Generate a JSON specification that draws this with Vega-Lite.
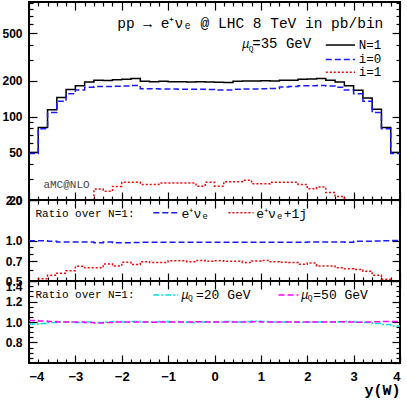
{
"$schema": "https://vega.github.io/schema/vega-lite/v6.json",
"padding": {"left": 0, "top": 0, "right": 4, "bottom": 0},
"spacing": 0,
"bounds": "flush",
"config": {
  "view": {"stroke": "black", "strokeWidth": 2},
  "axis": {"domain": false, "grid": false, "tickColor": "black", "tickWidth": 1.2, "labelFont": "Liberation Sans", "labelFontWeight": "bold", "labelColor": "black", "labelFontSize": 12, "minExtent": 0},
  "text": {"font": "Liberation Mono", "color": "black"}
},
"datasets": {
  "top": [
{"s":"N1","x":-4,"v":50},{"s":"N1","x":-3.8,"v":81},{"s":"N1","x":-3.6,"v":114},{"s":"N1","x":-3.4,"v":144},{"s":"N1","x":-3.2,"v":168},{"s":"N1","x":-3,"v":181},{"s":"N1","x":-2.8,"v":195},{"s":"N1","x":-2.6,"v":201},{"s":"N1","x":-2.4,"v":200},{"s":"N1","x":-2.2,"v":203},{"s":"N1","x":-2,"v":205},{"s":"N1","x":-1.8,"v":208},{"s":"N1","x":-1.6,"v":197},{"s":"N1","x":-1.4,"v":196},{"s":"N1","x":-1.2,"v":197},{"s":"N1","x":-1,"v":196},{"s":"N1","x":-0.8,"v":196},{"s":"N1","x":-0.6,"v":195},{"s":"N1","x":-0.4,"v":196},{"s":"N1","x":-0.2,"v":195},{"s":"N1","x":0,"v":194},{"s":"N1","x":0.2,"v":193},{"s":"N1","x":0.4,"v":197},{"s":"N1","x":0.6,"v":198},{"s":"N1","x":0.8,"v":198},{"s":"N1","x":1,"v":199},{"s":"N1","x":1.2,"v":198},{"s":"N1","x":1.4,"v":201},{"s":"N1","x":1.6,"v":201},{"s":"N1","x":1.8,"v":205},{"s":"N1","x":2,"v":206},{"s":"N1","x":2.2,"v":208},{"s":"N1","x":2.4,"v":201},{"s":"N1","x":2.6,"v":195},{"s":"N1","x":2.8,"v":181},{"s":"N1","x":3,"v":166},{"s":"N1","x":3.2,"v":143},{"s":"N1","x":3.4,"v":115},{"s":"N1","x":3.6,"v":81},{"s":"N1","x":3.8,"v":50},{"s":"N1","x":4,"v":50},
{"s":"i0","x":-4,"v":49},{"s":"i0","x":-3.8,"v":79},{"s":"i0","x":-3.6,"v":108},{"s":"i0","x":-3.4,"v":134},{"s":"i0","x":-3.2,"v":155},{"s":"i0","x":-3,"v":167},{"s":"i0","x":-2.8,"v":176},{"s":"i0","x":-2.6,"v":178},{"s":"i0","x":-2.4,"v":178},{"s":"i0","x":-2.2,"v":179},{"s":"i0","x":-2,"v":180},{"s":"i0","x":-1.8,"v":182},{"s":"i0","x":-1.6,"v":171},{"s":"i0","x":-1.4,"v":171},{"s":"i0","x":-1.2,"v":170},{"s":"i0","x":-1,"v":170},{"s":"i0","x":-0.8,"v":169},{"s":"i0","x":-0.6,"v":169},{"s":"i0","x":-0.4,"v":169},{"s":"i0","x":-0.2,"v":168},{"s":"i0","x":0,"v":167},{"s":"i0","x":0.2,"v":167},{"s":"i0","x":0.4,"v":169},{"s":"i0","x":0.6,"v":170},{"s":"i0","x":0.8,"v":170},{"s":"i0","x":1,"v":171},{"s":"i0","x":1.2,"v":172},{"s":"i0","x":1.4,"v":177},{"s":"i0","x":1.6,"v":178},{"s":"i0","x":1.8,"v":181},{"s":"i0","x":2,"v":181},{"s":"i0","x":2.2,"v":182},{"s":"i0","x":2.4,"v":180},{"s":"i0","x":2.6,"v":176},{"s":"i0","x":2.8,"v":167},{"s":"i0","x":3,"v":155},{"s":"i0","x":3.2,"v":134},{"s":"i0","x":3.4,"v":108},{"s":"i0","x":3.6,"v":79},{"s":"i0","x":3.8,"v":49},{"s":"i0","x":4,"v":49},
{"s":"i1","x":-2.8,"v":15},{"s":"i1","x":-2.6,"v":24.7},{"s":"i1","x":-2.4,"v":23.7},{"s":"i1","x":-2.2,"v":26},{"s":"i1","x":-2,"v":28.1},{"s":"i1","x":-1.8,"v":28.1},{"s":"i1","x":-1.6,"v":27},{"s":"i1","x":-1.4,"v":27},{"s":"i1","x":-1.2,"v":27.7},{"s":"i1","x":-1,"v":27.7},{"s":"i1","x":-0.8,"v":27.7},{"s":"i1","x":-0.6,"v":27.7},{"s":"i1","x":-0.4,"v":26.1},{"s":"i1","x":-0.2,"v":28.1},{"s":"i1","x":0,"v":26.1},{"s":"i1","x":0.2,"v":28.5},{"s":"i1","x":0.4,"v":28.5},{"s":"i1","x":0.6,"v":29.2},{"s":"i1","x":0.8,"v":27.3},{"s":"i1","x":1,"v":27.3},{"s":"i1","x":1.2,"v":28.1},{"s":"i1","x":1.4,"v":28.1},{"s":"i1","x":1.6,"v":28.1},{"s":"i1","x":1.8,"v":27},{"s":"i1","x":2,"v":24.8},{"s":"i1","x":2.2,"v":25.7},{"s":"i1","x":2.4,"v":23.1},{"s":"i1","x":2.6,"v":21.4},{"s":"i1","x":2.8,"v":15},{"s":"i1","x":3,"v":15}
  ],
  "mid": [
{"s":"ev","x":-4,"v":0.997},{"s":"ev","x":-3.8,"v":0.997},{"s":"ev","x":-3.6,"v":0.986},{"s":"ev","x":-3.4,"v":0.974},{"s":"ev","x":-3.2,"v":0.974},{"s":"ev","x":-3,"v":0.974},{"s":"ev","x":-2.8,"v":0.974},{"s":"ev","x":-2.6,"v":0.964},{"s":"ev","x":-2.4,"v":0.974},{"s":"ev","x":-2.2,"v":0.964},{"s":"ev","x":-2,"v":0.964},{"s":"ev","x":-1.8,"v":0.967},{"s":"ev","x":-1.6,"v":0.969},{"s":"ev","x":-1.4,"v":0.969},{"s":"ev","x":-1.2,"v":0.969},{"s":"ev","x":-1,"v":0.969},{"s":"ev","x":-0.8,"v":0.969},{"s":"ev","x":-0.6,"v":0.969},{"s":"ev","x":-0.4,"v":0.969},{"s":"ev","x":-0.2,"v":0.969},{"s":"ev","x":0,"v":0.969},{"s":"ev","x":0.2,"v":0.969},{"s":"ev","x":0.4,"v":0.969},{"s":"ev","x":0.6,"v":0.969},{"s":"ev","x":0.8,"v":0.969},{"s":"ev","x":1,"v":0.969},{"s":"ev","x":1.2,"v":0.969},{"s":"ev","x":1.4,"v":0.969},{"s":"ev","x":1.6,"v":0.969},{"s":"ev","x":1.8,"v":0.969},{"s":"ev","x":2,"v":0.974},{"s":"ev","x":2.2,"v":0.974},{"s":"ev","x":2.4,"v":0.974},{"s":"ev","x":2.6,"v":0.974},{"s":"ev","x":2.8,"v":0.969},{"s":"ev","x":3,"v":0.986},{"s":"ev","x":3.2,"v":0.986},{"s":"ev","x":3.4,"v":0.99},{"s":"ev","x":3.6,"v":0.997},{"s":"ev","x":3.8,"v":1.0},{"s":"ev","x":4,"v":1.0},
{"s":"ej","x":-4,"v":0.49},{"s":"ej","x":-3.8,"v":0.52},{"s":"ej","x":-3.6,"v":0.551},{"s":"ej","x":-3.4,"v":0.572},{"s":"ej","x":-3.2,"v":0.596},{"s":"ej","x":-3,"v":0.643},{"s":"ej","x":-2.8,"v":0.627},{"s":"ej","x":-2.6,"v":0.627},{"s":"ej","x":-2.4,"v":0.669},{"s":"ej","x":-2.2,"v":0.647},{"s":"ej","x":-2,"v":0.688},{"s":"ej","x":-1.8,"v":0.662},{"s":"ej","x":-1.6,"v":0.696},{"s":"ej","x":-1.4,"v":0.685},{"s":"ej","x":-1.2,"v":0.685},{"s":"ej","x":-1,"v":0.707},{"s":"ej","x":-0.8,"v":0.707},{"s":"ej","x":-0.6,"v":0.696},{"s":"ej","x":-0.4,"v":0.711},{"s":"ej","x":-0.2,"v":0.7},{"s":"ej","x":0,"v":0.707},{"s":"ej","x":0.2,"v":0.7},{"s":"ej","x":0.4,"v":0.7},{"s":"ej","x":0.6,"v":0.685},{"s":"ej","x":0.8,"v":0.704},{"s":"ej","x":1,"v":0.711},{"s":"ej","x":1.2,"v":0.696},{"s":"ej","x":1.4,"v":0.688},{"s":"ej","x":1.6,"v":0.685},{"s":"ej","x":1.8,"v":0.666},{"s":"ej","x":2,"v":0.681},{"s":"ej","x":2.2,"v":0.647},{"s":"ej","x":2.4,"v":0.647},{"s":"ej","x":2.6,"v":0.627},{"s":"ej","x":2.8,"v":0.617},{"s":"ej","x":3,"v":0.61},{"s":"ej","x":3.2,"v":0.59},{"s":"ej","x":3.4,"v":0.551},{"s":"ej","x":3.6,"v":0.515},{"s":"ej","x":3.8,"v":0.49},{"s":"ej","x":4,"v":0.49}
  ],
  "bot": [
{"s":"m20","x":-4,"v":0.98},{"s":"m20","x":-3.8,"v":0.985},{"s":"m20","x":-3.6,"v":0.995},{"s":"m20","x":-3.4,"v":1.0},{"s":"m20","x":-3.2,"v":1.0},{"s":"m20","x":-3,"v":0.995},{"s":"m20","x":-2.8,"v":1.0},{"s":"m20","x":-2.6,"v":0.995},{"s":"m20","x":-2.4,"v":1.0},{"s":"m20","x":-2.2,"v":1.005},{"s":"m20","x":-2,"v":1.0},{"s":"m20","x":-1.8,"v":1.005},{"s":"m20","x":-1.6,"v":1.0},{"s":"m20","x":-1.4,"v":1.0},{"s":"m20","x":-1.2,"v":1.005},{"s":"m20","x":-1,"v":1.0},{"s":"m20","x":-0.8,"v":1.0},{"s":"m20","x":-0.6,"v":0.995},{"s":"m20","x":-0.4,"v":1.0},{"s":"m20","x":-0.2,"v":1.0},{"s":"m20","x":0,"v":1.0},{"s":"m20","x":0.2,"v":1.005},{"s":"m20","x":0.4,"v":1.0},{"s":"m20","x":0.6,"v":1.005},{"s":"m20","x":0.8,"v":1.008},{"s":"m20","x":1,"v":1.005},{"s":"m20","x":1.2,"v":1.0},{"s":"m20","x":1.4,"v":1.0},{"s":"m20","x":1.6,"v":1.0},{"s":"m20","x":1.8,"v":0.997},{"s":"m20","x":2,"v":1.0},{"s":"m20","x":2.2,"v":1.0},{"s":"m20","x":2.4,"v":1.0},{"s":"m20","x":2.6,"v":1.0},{"s":"m20","x":2.8,"v":1.005},{"s":"m20","x":3,"v":1.0},{"s":"m20","x":3.2,"v":0.995},{"s":"m20","x":3.4,"v":0.985},{"s":"m20","x":3.6,"v":0.975},{"s":"m20","x":3.8,"v":0.962},{"s":"m20","x":4,"v":0.962},
{"s":"m50","x":-4,"v":1.015},{"s":"m50","x":-3.8,"v":1.01},{"s":"m50","x":-3.6,"v":1.005},{"s":"m50","x":-3.4,"v":1.0},{"s":"m50","x":-3.2,"v":1.0},{"s":"m50","x":-3,"v":1.0},{"s":"m50","x":-2.8,"v":0.995},{"s":"m50","x":-2.6,"v":0.99},{"s":"m50","x":-2.4,"v":0.995},{"s":"m50","x":-2.2,"v":1.0},{"s":"m50","x":-2,"v":1.0},{"s":"m50","x":-1.8,"v":1.0},{"s":"m50","x":-1.6,"v":1.0},{"s":"m50","x":-1.4,"v":0.998},{"s":"m50","x":-1.2,"v":1.0},{"s":"m50","x":-1,"v":1.0},{"s":"m50","x":-0.8,"v":1.0},{"s":"m50","x":-0.6,"v":1.0},{"s":"m50","x":-0.4,"v":1.002},{"s":"m50","x":-0.2,"v":1.0},{"s":"m50","x":0,"v":1.0},{"s":"m50","x":0.2,"v":1.0},{"s":"m50","x":0.4,"v":1.0},{"s":"m50","x":0.6,"v":1.0},{"s":"m50","x":0.8,"v":1.002},{"s":"m50","x":1,"v":1.0},{"s":"m50","x":1.2,"v":1.0},{"s":"m50","x":1.4,"v":1.0},{"s":"m50","x":1.6,"v":1.0},{"s":"m50","x":1.8,"v":1.0},{"s":"m50","x":2,"v":1.0},{"s":"m50","x":2.2,"v":1.0},{"s":"m50","x":2.4,"v":1.0},{"s":"m50","x":2.6,"v":1.002},{"s":"m50","x":2.8,"v":1.0},{"s":"m50","x":3,"v":0.998},{"s":"m50","x":3.2,"v":1.0},{"s":"m50","x":3.4,"v":1.002},{"s":"m50","x":3.6,"v":1.005},{"s":"m50","x":3.8,"v":1.005},{"s":"m50","x":4,"v":1.005}
  ]
},
"vconcat": [
{
  "width": 371, "height": 198,
  "resolve": {"axis": {"x": "independent", "y": "independent"}},
  "layer": [
    {"data": {"name": "top"}, "transform": [{"filter": "datum.s === 'N1'"}],
     "mark": {"type": "line", "interpolate": "step-after", "color": "black", "strokeWidth": 1.5, "clip": true},
     "encoding": {
       "x": {"field": "x", "type": "quantitative", "scale": {"domain": [-4, 4], "nice": false, "zero": false}, "axis": {"orient": "bottom", "values": [-4,-3,-2,-1,0,1,2,3,4], "tickSize": -8, "labels": false, "title": null}},
       "y": {"field": "v", "type": "quantitative", "scale": {"type": "log", "domain": [20, 910], "nice": false}, "axis": {"orient": "left", "values": [20,50,100,200,500], "tickSize": -8, "labelPadding": 15, "format": "d", "title": null}}
     }},
    {"data": {"name": "top"}, "transform": [{"filter": "datum.s === 'i0'"}],
     "mark": {"type": "line", "interpolate": "step-after", "color": "#1a1aff", "strokeWidth": 1.5, "strokeDash": [6, 3], "clip": true},
     "encoding": {
       "x": {"field": "x", "type": "quantitative", "axis": {"orient": "bottom", "values": [-3.8,-3.6,-3.4,-3.2,-2.8,-2.6,-2.4,-2.2,-1.8,-1.6,-1.4,-1.2,-0.8,-0.6,-0.4,-0.2,0.2,0.4,0.6,0.8,1.2,1.4,1.6,1.8,2.2,2.4,2.6,2.8,3.2,3.4,3.6,3.8], "tickSize": -4, "labels": false, "title": null}},
       "y": {"field": "v", "type": "quantitative", "axis": {"orient": "left", "values": [30,40,60,70,80,90,300,400,600,700,800,900], "tickSize": -4, "labels": false, "title": null}}
     }},
    {"data": {"name": "top"}, "transform": [{"filter": "datum.s === 'i1'"}],
     "mark": {"type": "line", "interpolate": "step-after", "color": "#ff0000", "strokeWidth": 1.5, "strokeDash": [2, 2], "clip": true},
     "encoding": {
       "x": {"field": "x", "type": "quantitative", "axis": {"orient": "top", "values": [-4,-3,-2,-1,0,1,2,3,4], "tickSize": -8, "labels": false, "title": null}},
       "y": {"field": "v", "type": "quantitative", "axis": {"orient": "right", "values": [50,100,200,500], "tickSize": -8, "labels": false, "title": null}}
     }},
    {"data": {"values": [{}]},
     "mark": {"type": "rule", "color": "black", "strokeWidth": 1.5},
     "encoding": {
       "x": {"datum": 2.40, "type": "quantitative", "axis": {"orient": "top", "values": [-3.8,-3.6,-3.4,-3.2,-2.8,-2.6,-2.4,-2.2,-1.8,-1.6,-1.4,-1.2,-0.8,-0.6,-0.4,-0.2,0.2,0.4,0.6,0.8,1.2,1.4,1.6,1.8,2.2,2.4,2.6,2.8,3.2,3.4,3.6,3.8], "tickSize": -4, "labels": false, "title": null}},
       "x2": {"datum": 3.03},
       "y": {"datum": 397, "type": "quantitative", "axis": {"orient": "right", "values": [30,40,60,70,80,90,300,400,600,700,800,900], "tickSize": -4, "labels": false, "title": null}}
     }},
    {"data": {"values": [{}]},
     "layer": [
       {"mark": {"type": "rule", "color": "#1a1aff", "strokeWidth": 1.5, "strokeDash": [6, 3]},
        "encoding": {"x": {"datum": 2.40, "axis": null}, "x2": {"datum": 3.03}, "y": {"datum": 301, "axis": null}}},
       {"mark": {"type": "rule", "color": "#ff0000", "strokeWidth": 1.5, "strokeDash": [2, 2]},
        "encoding": {"x": {"datum": 2.40, "axis": null}, "x2": {"datum": 3.03}, "y": {"datum": 235, "axis": null}}},
       {"mark": {"type": "text", "text": "pp → e⁺νₑ @ LHC 8 TeV in pb/bin", "fontSize": 14.5, "align": "right", "baseline": "alphabetic"},
        "encoding": {"x": {"datum": 3.64, "axis": null}, "y": {"datum": 551, "axis": null}}},
       {"mark": {"type": "text", "text": "μ", "fontSize": 12, "fontStyle": "italic", "align": "left", "baseline": "alphabetic"},
        "encoding": {"x": {"datum": 0.60, "axis": null}, "y": {"datum": 375, "axis": null}}},
       {"mark": {"type": "text", "text": "Q", "fontSize": 8, "align": "left", "baseline": "alphabetic"},
        "encoding": {"x": {"datum": 0.74, "axis": null}, "y": {"datum": 354, "axis": null}}},
       {"mark": {"type": "text", "text": "=35 GeV", "fontSize": 14, "align": "left", "baseline": "alphabetic"},
        "encoding": {"x": {"datum": 0.815, "axis": null}, "y": {"datum": 375, "axis": null}}},
       {"mark": {"type": "text", "text": "N=1", "fontSize": 12.5, "align": "left", "baseline": "middle"},
        "encoding": {"x": {"datum": 3.11, "axis": null}, "y": {"datum": 397, "axis": null}}},
       {"mark": {"type": "text", "text": "i=0", "fontSize": 12.5, "align": "left", "baseline": "middle"},
        "encoding": {"x": {"datum": 3.11, "axis": null}, "y": {"datum": 301, "axis": null}}},
       {"mark": {"type": "text", "text": "i=1", "fontSize": 12.5, "align": "left", "baseline": "middle"},
        "encoding": {"x": {"datum": 3.11, "axis": null}, "y": {"datum": 235, "axis": null}}},
       {"mark": {"type": "text", "text": "aMC@NLO", "fontSize": 11, "color": "#444444", "align": "left", "baseline": "middle"},
        "encoding": {"x": {"datum": -3.69, "axis": null}, "y": {"datum": 26.7, "axis": null}}}
     ]}
  ]
},
{
  "width": 371, "height": 81,
  "resolve": {"axis": {"x": "independent", "y": "independent"}},
  "layer": [
    {"data": {"name": "mid"}, "transform": [{"filter": "datum.s === 'ev'"}],
     "mark": {"type": "line", "interpolate": "step-after", "color": "#1a1aff", "strokeWidth": 1.5, "strokeDash": [6, 3], "clip": true},
     "encoding": {
       "x": {"field": "x", "type": "quantitative", "scale": {"domain": [-4, 4], "nice": false, "zero": false}, "axis": {"orient": "bottom", "values": [-4,-3,-2,-1,0,1,2,3,4], "tickSize": -8, "labels": false, "title": null}},
       "y": {"field": "v", "type": "quantitative", "scale": {"type": "log", "domain": [0.5, 2.0], "nice": false}, "axis": {"orient": "left", "values": [0.5,0.7,1.0,2.0], "tickSize": -8, "labelPadding": 15, "format": ".1f", "title": null}}
     }},
    {"data": {"name": "mid"}, "transform": [{"filter": "datum.s === 'ej'"}],
     "mark": {"type": "line", "interpolate": "step-after", "color": "#ff0000", "strokeWidth": 1.5, "strokeDash": [2, 2], "clip": true},
     "encoding": {
       "x": {"field": "x", "type": "quantitative", "axis": {"orient": "bottom", "values": [-3.8,-3.6,-3.4,-3.2,-2.8,-2.6,-2.4,-2.2,-1.8,-1.6,-1.4,-1.2,-0.8,-0.6,-0.4,-0.2,0.2,0.4,0.6,0.8,1.2,1.4,1.6,1.8,2.2,2.4,2.6,2.8,3.2,3.4,3.6,3.8], "tickSize": -4, "labels": false, "title": null}},
       "y": {"field": "v", "type": "quantitative", "axis": {"orient": "left", "values": [0.6,0.8,0.9], "tickSize": -4, "labels": false, "title": null}}
     }},
    {"data": {"values": [{}]},
     "mark": {"type": "rule", "color": "#1a1aff", "strokeWidth": 1.5, "strokeDash": [6, 3]},
     "encoding": {
       "x": {"datum": -1.32, "type": "quantitative", "axis": {"orient": "top", "values": [-4,-3,-2,-1,0,1,2,3,4], "tickSize": -8, "labels": false, "title": null}},
       "x2": {"datum": -0.78},
       "y": {"datum": 1.607, "type": "quantitative", "axis": {"orient": "right", "values": [0.5,0.7,1.0,2.0], "tickSize": -8, "labels": false, "title": null}}
     }},
    {"data": {"values": [{}]},
     "mark": {"type": "rule", "color": "#ff0000", "strokeWidth": 1.5, "strokeDash": [2, 2]},
     "encoding": {
       "x": {"datum": 0.30, "type": "quantitative", "axis": {"orient": "top", "values": [-3.8,-3.6,-3.4,-3.2,-2.8,-2.6,-2.4,-2.2,-1.8,-1.6,-1.4,-1.2,-0.8,-0.6,-0.4,-0.2,0.2,0.4,0.6,0.8,1.2,1.4,1.6,1.8,2.2,2.4,2.6,2.8,3.2,3.4,3.6,3.8], "tickSize": -4, "labels": false, "title": null}},
       "x2": {"datum": 0.84},
       "y": {"datum": 1.607, "type": "quantitative", "axis": {"orient": "right", "values": [0.6,0.8,0.9], "tickSize": -4, "labels": false, "title": null}}
     }},
    {"data": {"values": [{}]},
     "layer": [
       {"mark": {"type": "text", "text": "Ratio over N=1:", "fontSize": 11, "align": "left", "baseline": "middle"},
        "encoding": {"x": {"datum": -3.86, "axis": null}, "y": {"datum": 1.574, "axis": null}}},
       {"mark": {"type": "text", "text": "e⁺νₑ", "fontSize": 13, "align": "left", "baseline": "middle"},
        "encoding": {"x": {"datum": -0.71, "axis": null}, "y": {"datum": 1.58, "axis": null}}},
       {"mark": {"type": "text", "text": "e⁺νₑ+1j", "fontSize": 13, "align": "left", "baseline": "middle"},
        "encoding": {"x": {"datum": 0.90, "axis": null}, "y": {"datum": 1.58, "axis": null}}}
     ]}
  ]
},
{
  "width": 371, "height": 82,
  "resolve": {"axis": {"x": "independent", "y": "independent"}},
  "layer": [
    {"data": {"name": "bot"}, "transform": [{"filter": "datum.s === 'm20'"}],
     "mark": {"type": "line", "interpolate": "step-after", "color": "#00e0e0", "strokeWidth": 1.5, "strokeDash": [6, 2, 2, 2], "clip": true},
     "encoding": {
       "x": {"field": "x", "type": "quantitative", "scale": {"domain": [-4, 4], "nice": false, "zero": false}, "axis": {"orient": "bottom", "values": [-4,-3,-2,-1,0,1,2,3,4], "tickSize": -8, "labelPadding": 15, "labelFontSize": 13, "format": "d", "title": "y(W)", "titleAnchor": "end", "titleFont": "Liberation Mono", "titleFontWeight": "bold", "titleFontSize": 15, "titlePadding": -1}},
       "y": {"field": "v", "type": "quantitative", "scale": {"domain": [0.6, 1.4], "nice": false, "zero": false}, "axis": {"orient": "left", "values": [0.8,1.0,1.2,1.4], "tickSize": -8, "labelPadding": 15, "labelFlush": true, "format": ".1f", "title": null}}
     }},
    {"data": {"name": "bot"}, "transform": [{"filter": "datum.s === 'm50'"}],
     "mark": {"type": "line", "interpolate": "step-after", "color": "#ff00ff", "strokeWidth": 1.5, "strokeDash": [6, 3], "clip": true},
     "encoding": {
       "x": {"field": "x", "type": "quantitative", "axis": {"orient": "bottom", "values": [-3.8,-3.6,-3.4,-3.2,-2.8,-2.6,-2.4,-2.2,-1.8,-1.6,-1.4,-1.2,-0.8,-0.6,-0.4,-0.2,0.2,0.4,0.6,0.8,1.2,1.4,1.6,1.8,2.2,2.4,2.6,2.8,3.2,3.4,3.6,3.8], "tickSize": -4, "labels": false, "title": null}},
       "y": {"field": "v", "type": "quantitative", "axis": {"orient": "left", "values": [0.65,0.7,0.75,0.85,0.9,0.95,1.05,1.1,1.15,1.25,1.3,1.35], "tickSize": -4, "labels": false, "title": null}}
     }},
    {"data": {"values": [{}]},
     "mark": {"type": "rule", "color": "#00e0e0", "strokeWidth": 1.5, "strokeDash": [6, 2, 2, 2]},
     "encoding": {
       "x": {"datum": -1.32, "type": "quantitative", "axis": {"orient": "top", "values": [-4,-3,-2,-1,0,1,2,3,4], "tickSize": -8, "labels": false, "title": null}},
       "x2": {"datum": -0.78},
       "y": {"datum": 1.263, "type": "quantitative", "axis": {"orient": "right", "values": [0.6,0.8,1.0,1.2,1.4], "tickSize": -8, "labels": false, "title": null}}
     }},
    {"data": {"values": [{}]},
     "mark": {"type": "rule", "color": "#ff00ff", "strokeWidth": 1.5, "strokeDash": [6, 3]},
     "encoding": {
       "x": {"datum": 1.38, "type": "quantitative", "axis": {"orient": "top", "values": [-3.8,-3.6,-3.4,-3.2,-2.8,-2.6,-2.4,-2.2,-1.8,-1.6,-1.4,-1.2,-0.8,-0.6,-0.4,-0.2,0.2,0.4,0.6,0.8,1.2,1.4,1.6,1.8,2.2,2.4,2.6,2.8,3.2,3.4,3.6,3.8], "tickSize": -4, "labels": false, "title": null}},
       "x2": {"datum": 1.81},
       "y": {"datum": 1.263, "type": "quantitative", "axis": {"orient": "right", "values": [0.65,0.7,0.75,0.85,0.9,0.95,1.05,1.1,1.15,1.25,1.3,1.35], "tickSize": -4, "labels": false, "title": null}}
     }},
    {"data": {"values": [{}]},
     "layer": [
       {"mark": {"type": "text", "text": "Ratio over N=1:", "fontSize": 11, "align": "left", "baseline": "middle"},
        "encoding": {"x": {"datum": -3.86, "axis": null}, "y": {"datum": 1.263, "axis": null}}},
       {"mark": {"type": "text", "text": "μ", "fontSize": 12, "fontStyle": "italic", "align": "left", "baseline": "middle"},
        "encoding": {"x": {"datum": -0.71, "axis": null}, "y": {"datum": 1.263, "axis": null}}},
       {"mark": {"type": "text", "text": "Q", "fontSize": 8, "align": "left", "baseline": "middle"},
        "encoding": {"x": {"datum": -0.57, "axis": null}, "y": {"datum": 1.235, "axis": null}}},
       {"mark": {"type": "text", "text": "=20 GeV", "fontSize": 13, "align": "left", "baseline": "middle"},
        "encoding": {"x": {"datum": -0.40, "axis": null}, "y": {"datum": 1.263, "axis": null}}},
       {"mark": {"type": "text", "text": "μ", "fontSize": 12, "fontStyle": "italic", "align": "left", "baseline": "middle"},
        "encoding": {"x": {"datum": 1.87, "axis": null}, "y": {"datum": 1.263, "axis": null}}},
       {"mark": {"type": "text", "text": "Q", "fontSize": 8, "align": "left", "baseline": "middle"},
        "encoding": {"x": {"datum": 2.01, "axis": null}, "y": {"datum": 1.235, "axis": null}}},
       {"mark": {"type": "text", "text": "=50 GeV", "fontSize": 13, "align": "left", "baseline": "middle"},
        "encoding": {"x": {"datum": 2.13, "axis": null}, "y": {"datum": 1.263, "axis": null}}}
     ]}
  ]
}
]
}
